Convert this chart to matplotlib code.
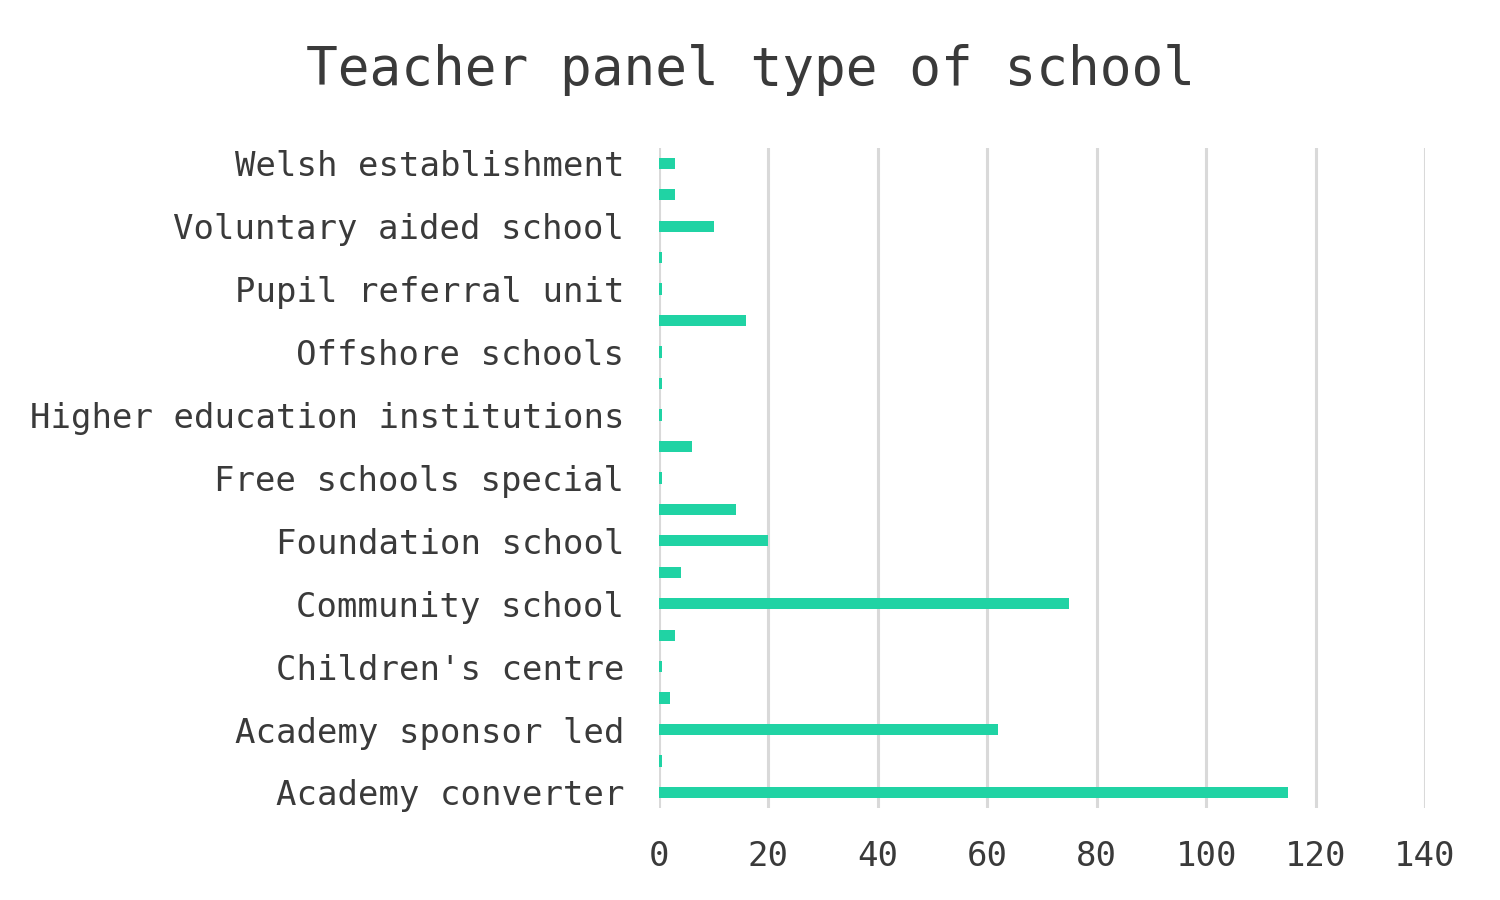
import numpy as np
import matplotlib.pyplot as plt

# categories bottom -> top; "" marks rows Excel left unlabeled
categories = ["Academy converter", "", "Academy sponsor led", "", "Children's centre", "",
              "Community school", "", "Foundation school", "", "Free schools special", "",
              "Higher education institutions", "", "Offshore schools", "", "Pupil referral unit", "",
              "Voluntary aided school", "", "Welsh establishment"]
counts = [115, 0.5, 62, 2, 0.5, 3,
          75, 4, 20, 14, 0.5, 6,
          0.5, 0.5, 0.5, 16, 0.5, 0.5,
          10, 3, 3]
xticks = [0, 20, 40, 60, 80, 100, 120, 140]

txt = '#3a3a3a'
plt.rcParams['font.family'] = ['DejaVu Sans Mono', 'DejaVu Sans']

fig = plt.figure(figsize=(15, 9), dpi=100)
ax = fig.add_axes([0.4393, 0.102, 0.5107, 0.734])

y = np.arange(len(categories))
ax.barh(y, counts, height=0.36, color='#20d3a4', zorder=3)
ax.set_ylim(-0.5, len(categories) - 0.5)
ax.set_xlim(0, 140)
ax.set_yticks(y)
ax.set_yticklabels(categories)
ax.set_xticks(xticks)
ax.set_xticklabels([str(t) for t in xticks])
ax.tick_params(axis='both', length=0, labelsize=24.5, colors=txt)
ax.tick_params(axis='x', pad=23)
ax.tick_params(axis='y', pad=25)
ax.grid(axis='x', color='#d9d9d9', linewidth=2.2, zorder=0)
for s in ax.spines.values():
    s.set_visible(False)

fig.suptitle('Teacher panel type of school', x=0.5, y=0.951, fontsize=38, color=txt)
fig.savefig('out.png', dpi=100)
plt.close()
